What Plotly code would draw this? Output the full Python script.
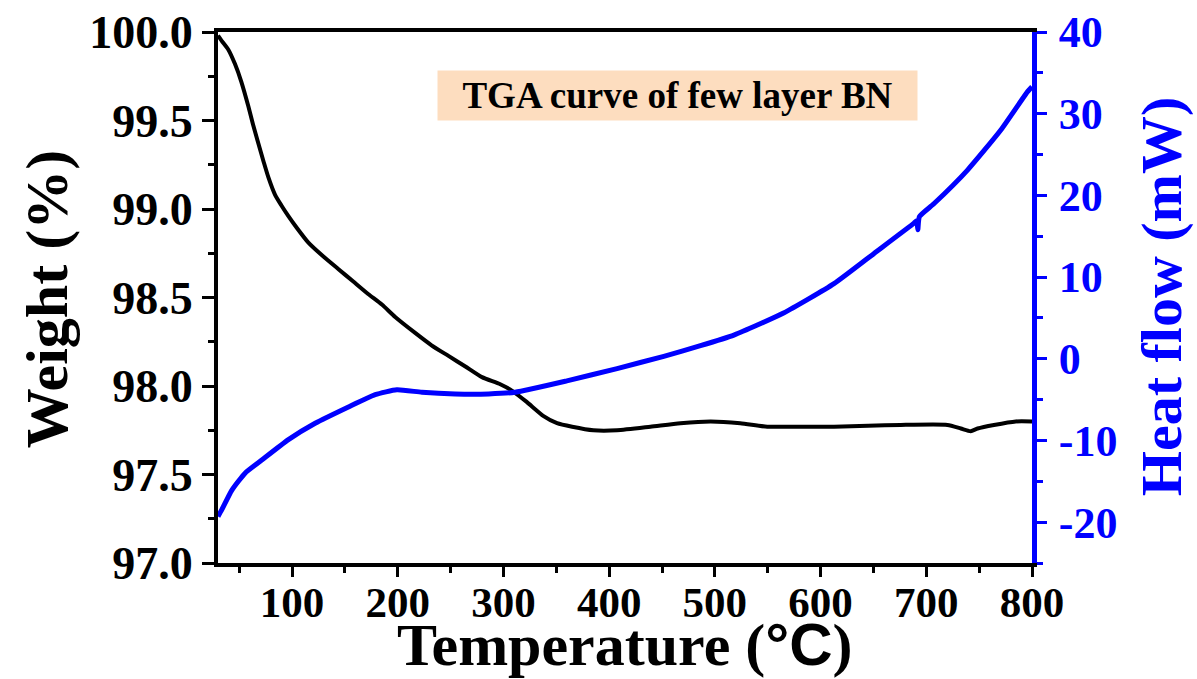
import plotly.graph_objects as go

# ---- data ----
temp_weight = [30, 33.5, 39.8, 46, 52, 58.7, 63, 68.2, 73, 77.6, 84, 90, 96.6, 105, 115.5,
               130, 144, 158, 172, 185, 197.6, 216.5, 232, 248, 264, 279.7, 297, 309, 322,
               338, 350.7, 365, 385, 407.5, 439, 467.5, 496, 524, 549.6, 580, 612.7, 645,
               675.8, 720, 732.7, 742, 748.5, 764, 784.7, 800]
weight = [99.98, 99.95, 99.90, 99.82, 99.72, 99.58, 99.48, 99.37, 99.27, 99.18, 99.08, 99.02,
          98.96, 98.89, 98.81, 98.73, 98.66, 98.59, 98.52, 98.46, 98.39, 98.30, 98.23, 98.17,
          98.11, 98.05, 98.01, 97.97, 97.91, 97.83, 97.79, 97.77, 97.75, 97.75, 97.77, 97.79,
          97.80, 97.79, 97.77, 97.77, 97.77, 97.775, 97.78, 97.78, 97.76, 97.745, 97.76,
          97.78, 97.80, 97.80]

temp_heat = [30, 33.5, 43, 55.6, 71.4, 96.6, 121.9, 153.4, 178.7, 199.2, 222.9, 254.4, 286,
             311, 360, 407.5, 451.7, 486.4, 518, 565, 612.7, 650.6, 688.4, 691, 692, 693.5,
             707.4, 739, 770.5, 795.8, 800]
heat_flow = [-19.3, -18.5, -16.1, -14.0, -12.4, -9.9, -7.9, -5.9, -4.4, -3.8, -4.1, -4.3,
             -4.3, -4.1, -2.7, -1.2, 0.3, 1.6, 2.9, 5.6, 9.2, 12.9, 16.6, 16.9, 15.8, 17.4,
             19.0, 23.1, 28.0, 32.7, 33.3]

x_ticks = [100, 200, 300, 400, 500, 600, 700, 800]
heat_ticks = [-20, -10, 0, 10, 20, 30, 40]
heat_tick_labels = ["-20", "-10", "0", "10", "20", "30", "40"]
annotation_text = "TGA curve of few layer BN"
x_title = 'Temperature (<span style="font-family:Liberation Sans">°C</span>)'
y_title = "Weight (%)"
y2_title = "Heat flow (mW)"

SERIF = "Liberation Serif"
BLUE = "#0000FF"

fig = go.Figure()
fig.add_trace(go.Scatter(x=temp_weight, y=weight, mode="lines", yaxis="y",
                         line=dict(color="black", width=4, shape="spline", smoothing=0.6),
                         showlegend=False))
fig.add_trace(go.Scatter(x=temp_heat, y=heat_flow, mode="lines", yaxis="y2",
                         line=dict(color=BLUE, width=5, shape="spline", smoothing=0.5),
                         showlegend=False))

fig.update_layout(
    width=1197, height=679,
    margin=dict(l=218, r=165, t=32, b=116, autoexpand=False),
    paper_bgcolor="white", plot_bgcolor="white",
    font=dict(family=SERIF, color="black"),
    xaxis=dict(
        range=[30, 800], tickvals=x_ticks, ticks="outside", ticklen=10, tickwidth=3,
        tickcolor="black", showline=True, linecolor="black", linewidth=4, mirror=True,
        showgrid=False, zeroline=False, automargin=False, ticklabelstandoff=-12,
        tickfont=dict(family=SERIF, size=43, weight="bold", color="black"),
        minor=dict(dtick=50, tick0=0, ticks="outside", ticklen=6, tickwidth=3, tickcolor="black"),
    ),
    yaxis=dict(
        range=[97.0, 100.0], dtick=0.5, tick0=97, tickformat=".1f", ticks="outside",
        ticklen=12, tickwidth=3, tickcolor="black", showline=True, linecolor="black",
        linewidth=4, showgrid=False, zeroline=False, automargin=False,
        tickfont=dict(family=SERIF, size=46, weight="bold", color="black"),
        minor=dict(dtick=0.25, tick0=97, ticks="outside", ticklen=6, tickwidth=3, tickcolor="black"),
    ),
    yaxis2=dict(
        overlaying="y", side="right", range=[-25, 40], tickvals=heat_ticks,
        ticktext=heat_tick_labels, ticks="outside", automargin=False, ticklabelstandoff=3,
        ticklen=10, tickwidth=3, tickcolor=BLUE, showline=True, linecolor=BLUE, linewidth=5,
        showgrid=False, zeroline=False,
        tickfont=dict(family=SERIF, size=44, weight="bold", color=BLUE),
        minor=dict(dtick=5, tick0=0, ticks="outside", ticklen=6, tickwidth=3, tickcolor=BLUE),
    ),
    annotations=[
        dict(text=annotation_text, xref="paper", yref="paper", x=0.5645, y=0.88,
             xanchor="center", yanchor="middle", showarrow=False,
             font=dict(family=SERIF, size=37, weight="bold", color="black"),
             bgcolor="#FDDDBF", width=475, height=45, borderpad=2),
        dict(text=x_title, xref="paper", yref="paper", x=0.5, y=-0.154,
             xanchor="center", yanchor="middle", showarrow=False,
             font=dict(family=SERIF, size=60, weight="bold", color="black")),
        dict(text=y_title, xref="paper", yref="paper", x=-0.21, y=0.497, textangle=-90,
             xanchor="center", yanchor="middle", showarrow=False,
             font=dict(family=SERIF, size=60, weight="bold", color="black")),
        dict(text=y2_title, xref="paper", yref="paper", x=1.16, y=0.501, textangle=-90,
             xanchor="center", yanchor="middle", showarrow=False,
             font=dict(family=SERIF, size=58, weight="bold", color=BLUE)),
    ],
)

fig.write_html("out.html")
